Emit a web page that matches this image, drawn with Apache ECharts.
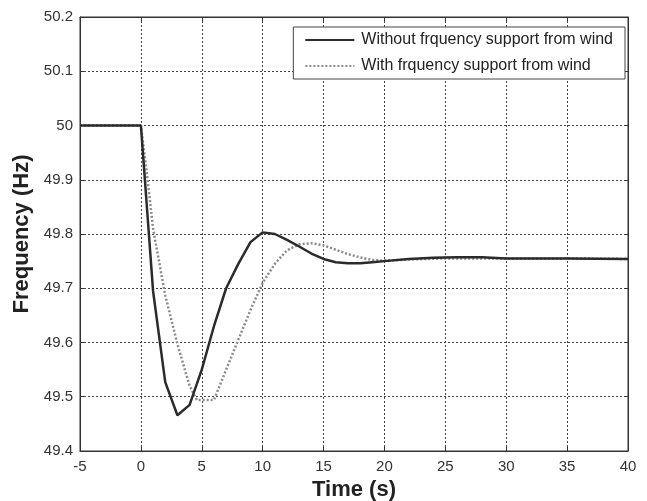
<!DOCTYPE html>
<html>
<head>
<meta charset="utf-8">
<script src="https://cdn.jsdelivr.net/npm/echarts@6/dist/echarts.min.js"></script>
<style>
  html, body { margin: 0; padding: 0; background: #fff; }
  #chart { width: 647px; height: 501px; }
</style>
</head>
<body>
<div id="chart"></div>
<script>
// time (s) and frequency (Hz)
const timeNoSupport = [-5, 0, 1, 2, 3, 4, 5, 6, 7, 8, 9, 10, 11, 12, 13, 14, 15, 16, 17, 18, 19, 20, 22, 24, 26, 28, 30, 35, 40]
const freqNoSupport = [50, 50, 49.695, 49.527, 49.466, 49.485, 49.55, 49.63, 49.70, 49.745, 49.785, 49.803, 49.80, 49.789, 49.777, 49.764, 49.754, 49.748, 49.746, 49.746, 49.748, 49.75, 49.754, 49.756, 49.757, 49.757, 49.755, 49.755, 49.754]

const timeSupport = [-5, 0, 0.5, 1, 2, 3, 4, 4.6, 6, 7, 8, 9, 10, 11, 12, 13, 14, 15, 16, 17, 18, 19, 20, 22, 25, 30, 35, 40]
const freqSupport = [50, 50, 49.91, 49.81, 49.687, 49.597, 49.52, 49.494, 49.494, 49.55, 49.605, 49.66, 49.71, 49.745, 49.77, 49.781, 49.783, 49.779, 49.771, 49.763, 49.757, 49.752, 49.751, 49.753, 49.755, 49.755, 49.755, 49.754]

const seriesNames = ['Without frquency support from wind', 'With frquency support from wind']

function pairs (xs, ys) {
  return xs.map((x, i) => [x, ys[i]])
}

const font = 'Liberation Sans, Arial, sans-serif'
const gridLine = { show: true, lineStyle: { color: '#444', type: [2, 2], width: 1 } }
const tick = { show: true, inside: true, length: 4, lineStyle: { color: '#333' } }
const axisName = { fontSize: 22, fontWeight: 'bold', color: '#222', fontFamily: font }
const tickLabel = { fontSize: 15, color: '#333', fontFamily: font }

const chart = echarts.init(document.getElementById('chart'))
chart.setOption({
  animation: false,
  textStyle: { fontFamily: font },
  grid: {
    left: 80, right: 19, top: 17, bottom: 50,
    outerBoundsMode: 'none',
    show: true, borderColor: '#333', borderWidth: 1
  },
  legend: {
    right: 22, top: 27,
    orient: 'vertical',
    itemWidth: 49, itemHeight: 14, itemGap: 10,
    padding: [5, 12, 5, 11],
    backgroundColor: '#fff',
    borderColor: '#444', borderWidth: 1,
    itemStyle: { opacity: 0 },
    textStyle: { fontSize: 16, color: '#222', fontFamily: font, padding: [0, 0, 0, 2] },
    data: seriesNames
  },
  xAxis: [
    {
      type: 'value', min: -5, max: 40, interval: 5,
      name: 'Time (s)', nameLocation: 'middle', nameGap: 26,
      nameTextStyle: axisName,
      axisLine: { show: true, onZero: false, lineStyle: { color: '#333' } },
      axisTick: tick,
      axisLabel: Object.assign({ margin: 8 }, tickLabel),
      splitLine: gridLine
    },
    {
      type: 'value', min: -5, max: 40, interval: 5, position: 'top',
      axisLine: { show: true, onZero: false, lineStyle: { color: '#333' } },
      axisTick: tick,
      axisLabel: { show: false },
      splitLine: { show: false }
    }
  ],
  yAxis: [
    {
      type: 'value', min: 49.4, max: 50.2, interval: 0.1,
      name: 'Frequency (Hz)', nameLocation: 'middle', nameGap: 47,
      nameTextStyle: axisName,
      axisLine: { show: true, onZero: false, lineStyle: { color: '#333' } },
      axisTick: tick,
      axisLabel: Object.assign({ margin: 7 }, tickLabel),
      splitLine: gridLine
    },
    {
      type: 'value', min: 49.4, max: 50.2, interval: 0.1, position: 'right',
      axisLine: { show: true, onZero: false, lineStyle: { color: '#333' } },
      axisTick: tick,
      axisLabel: { show: false },
      splitLine: { show: false }
    }
  ],
  series: [
    {
      name: seriesNames[0],
      type: 'line',
      xAxisIndex: 0, yAxisIndex: 0,
      symbol: 'none',
      data: pairs(timeNoSupport, freqNoSupport),
      lineStyle: { color: '#2b2b2b', width: 2.5 },
      itemStyle: { color: '#2b2b2b' },
      z: 3
    },
    {
      name: seriesNames[1],
      type: 'line',
      xAxisIndex: 0, yAxisIndex: 0,
      symbol: 'none',
      data: pairs(timeSupport, freqSupport),
      lineStyle: { color: '#8a8a8a', width: 2.5, type: [2, 2] },
      itemStyle: { color: '#8a8a8a' },
      z: 2
    }
  ]
})
</script>
</body>
</html>
